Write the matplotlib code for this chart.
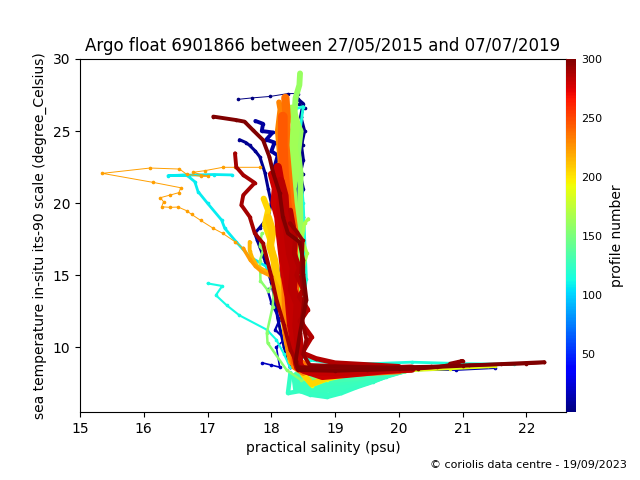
import matplotlib
matplotlib.use("Agg")
import matplotlib.pyplot as plt
from matplotlib import cm
from matplotlib.colors import Normalize

title = "Argo float 6901866 between 27/05/2015 and 07/07/2019"
credit = "\u00a9 coriolis data centre - 19/09/2023"
cbar_ticks = [50, 100, 150, 200, 250, 300]

# --- blue, early profiles
p002_s = [17.48, 17.7, 17.98, 18.26, 18.42, 18.44, 18.52, 18.47, 18.5, 18.44, 18.5, 18.42, 18.48, 18.44, 18.46, 18.4, 18.36, 18.3]
p002_t = [27.2, 27.3, 27.4, 27.6, 27.6, 26.9, 26.6, 26.0, 24.0, 23.0, 22.0, 20.5, 19.0, 17.5, 15.0, 13.0, 11.0, 8.8]
p004_s = [18.42, 18.5, 18.46, 18.52, 18.47, 18.5, 18.45, 18.5, 18.44, 18.49, 18.45, 18.48, 18.43, 18.46, 18.42]
p004_t = [27.2, 26.9, 26.0, 25.0, 24.0, 23.0, 22.0, 21.0, 20.0, 19.0, 18.0, 17.0, 16.0, 15.0, 14.0]
p006_s = [17.5, 17.6, 17.66, 17.75, 17.82, 17.9, 17.95, 18.0, 17.95, 17.82, 17.74, 17.78, 17.9, 18.0, 18.05, 18.1, 18.2, 18.3]
p006_t = [24.4, 24.2, 24.0, 23.6, 23.2, 22.1, 21.0, 20.0, 19.0, 18.3, 17.9, 17.4, 16.0, 14.5, 13.5, 12.0, 10.0, 8.6]
p010_s = [17.75, 17.87, 17.85, 18.02, 17.92, 18.05, 18.0, 18.1, 18.02, 18.1, 18.05, 18.2, 18.12, 18.18, 18.1, 18.2, 18.28]
p010_t = [25.7, 25.5, 25.0, 24.9, 24.4, 24.2, 23.6, 23.3, 22.0, 20.5, 19.8, 19.0, 17.5, 16.0, 14.0, 12.0, 9.5]
p014_s = [17.94, 18.0, 18.13, 18.06, 18.2, 18.24, 18.29, 18.35, 18.6, 19.2, 20.0, 20.9, 21.5]
p014_t = [14.0, 13.05, 11.9, 11.2, 10.6, 9.8, 8.9, 8.6, 8.5, 8.45, 8.4, 8.42, 8.55]
p018_s = [17.86, 18.0, 18.13, 18.08, 18.2, 18.3]
p018_t = [8.9, 8.75, 8.6, 10.0, 10.5, 8.6]
p022_s = [18.3, 18.38, 18.34, 18.42, 18.36, 18.44, 18.38, 18.45, 18.4]
p022_t = [25.0, 24.0, 22.5, 21.0, 19.5, 18.0, 16.5, 14.5, 11.0]

# --- cyan, middle profiles
p108_s = [17.38, 17.1, 16.38, 16.67, 16.8, 16.85, 17.0, 17.22, 17.27, 17.45, 17.66, 17.92, 18.0, 18.15]
p108_t = [21.95, 21.98, 21.9, 21.95, 21.48, 20.8, 19.98, 18.82, 18.24, 17.3, 16.27, 15.6, 14.88, 14.0]
p112_s = [17.0, 17.23, 17.13, 17.3, 17.5, 17.93, 18.08, 18.2, 18.29]
p112_t = [14.42, 14.24, 13.6, 12.9, 12.2, 11.2, 10.5, 9.5, 8.6]
p116_s = [18.35, 18.5, 18.42, 18.5, 18.55, 18.46, 18.4, 18.6, 19.0, 19.6, 20.2, 21.0, 21.8]
p116_t = [26.5, 26.7, 24.0, 20.0, 14.7, 12.0, 9.5, 9.1, 8.85, 8.85, 8.95, 8.85, 8.8]

# --- spring green fan of deep-water tails
p124_s = [18.3, 18.26, 18.45, 18.6, 18.87, 19.1, 19.33, 19.6, 19.85, 20.1, 20.5]
p124_t = [8.2, 6.8, 6.95, 6.7, 6.53, 6.8, 7.2, 7.6, 8.05, 8.35, 8.55]
p125_s = [18.35, 18.38, 18.6, 18.9, 19.2, 19.5, 19.8, 20.1]
p125_t = [8.0, 7.0, 6.85, 6.7, 7.1, 7.5, 7.95, 8.35]
p126_s = [18.35, 18.4, 18.7, 19.0, 19.3, 19.7, 20.1]
p126_t = [8.0, 7.2, 7.0, 7.0, 7.45, 7.9, 8.4]
p127_s = [18.38, 18.45, 18.75, 19.1, 19.45, 19.8, 20.2]
p127_t = [8.1, 7.4, 7.2, 7.3, 7.65, 8.0, 8.45]
p128_s = [18.4, 18.5, 18.85, 19.2, 19.6, 20.1]
p128_t = [8.1, 7.55, 7.4, 7.55, 7.95, 8.4]
p130_s = [18.42, 18.6, 18.95, 19.35, 19.8, 20.3]
p130_t = [8.2, 7.75, 7.65, 7.8, 8.15, 8.5]
p134_s = [18.42, 18.7, 19.1, 19.5, 20.1, 20.7, 21.4]
p134_t = [8.25, 7.95, 7.95, 8.1, 8.45, 8.6, 8.7]
p138_s = [18.4, 18.7, 19.2, 19.8, 20.5, 21.0]
p138_t = [8.3, 8.1, 8.15, 8.4, 8.6, 8.7]

# --- lime, profiles along the right side of the column
p156_s = [17.85, 17.82, 17.87, 17.82, 17.83, 17.95, 18.05, 18.02, 17.93, 17.94, 18.24, 18.47, 18.9, 19.5]
p156_t = [17.9, 17.0, 16.7, 16.0, 14.6, 13.9, 14.5, 12.8, 11.0, 10.3, 8.4, 7.7, 8.0, 8.3]
p160_s = [18.45, 18.44, 18.38, 18.36, 18.46, 18.42, 18.46, 18.45, 18.46, 18.45, 18.4]
p160_t = [29.0, 28.2, 27.3, 26.0, 25.0, 23.5, 22.0, 20.0, 18.0, 16.0, 13.0]
p164_s = [18.32, 18.38, 18.34, 18.38, 18.32, 18.36, 18.32, 18.38]
p164_t = [26.5, 25.5, 24.0, 22.5, 21.0, 19.0, 17.0, 14.5]
p168_s = [18.58, 18.52, 18.48, 18.56, 18.5, 18.45]
p168_t = [18.9, 18.6, 17.5, 16.5, 15.5, 14.0]

# --- amber and yellow profiles
p188_s = [18.35, 18.49, 18.63, 18.87, 19.33, 20.1, 20.8, 21.5]
p188_t = [9.5, 8.0, 7.3, 7.7, 8.15, 8.35, 8.5, 8.65]
p205_s = [17.88, 17.95, 17.9, 17.98, 18.02, 18.05, 18.1, 18.15, 18.22, 18.28, 18.38, 18.49, 18.63, 18.87, 19.33, 20.1]
p205_t = [20.3, 19.5, 18.5, 17.5, 16.5, 15.5, 14.5, 13.5, 12.0, 10.5, 9.0, 8.2, 7.43, 7.85, 8.27, 8.4]
p210_s = [17.95, 18.02, 17.98, 18.05, 18.08, 18.14, 18.2, 18.25, 18.32]
p210_t = [19.0, 18.0, 17.0, 16.0, 15.0, 13.5, 12.0, 10.5, 9.0]
p215_s = [17.66, 17.66, 17.7, 17.78, 17.9, 18.0, 18.1, 18.18, 18.25]
p215_t = [17.3, 16.7, 16.2, 15.6, 15.3, 15.0, 14.2, 12.5, 10.0]

# --- orange thin profile with the salinity excursion
p222_s = [17.82, 17.43, 17.24, 16.96, 16.77, 17.01, 16.9, 16.67, 16.56, 16.1, 15.35, 16.15, 16.58, 16.55,
          16.41, 16.26, 16.31, 16.28, 16.41, 16.54, 16.67, 16.75, 16.89, 17.09, 17.24, 17.43, 17.56, 17.66, 17.84, 18.0]
p222_t = [22.48, 22.48, 22.48, 22.25, 22.13, 21.85, 21.85, 22.0, 22.36, 22.43, 22.06, 21.43, 21.06, 20.72,
          20.55, 20.37, 20.09, 19.74, 19.7, 19.72, 19.47, 19.21, 18.8, 18.24, 17.89, 17.31, 16.85, 16.04, 15.3, 14.88]
p223_s = [17.56, 17.66, 17.75, 17.84, 18.0]
p223_t = [16.85, 16.1, 15.6, 15.25, 14.9]

# --- deep orange, main column
p232_s = [18.12, 18.14, 18.1, 18.14, 18.16, 18.18, 18.16, 18.2, 18.22, 18.28, 18.36, 18.5]
p232_t = [27.0, 26.5, 25.0, 23.0, 21.0, 19.0, 17.0, 14.0, 11.0, 9.5, 8.6, 8.2]
p238_s = [18.22, 18.24, 18.22, 18.26, 18.3, 18.36, 18.34, 18.36, 18.42, 18.7, 19.2, 20.0]
p238_t = [27.3, 26.0, 24.0, 22.0, 20.0, 18.0, 15.0, 12.0, 9.0, 8.2, 8.2, 8.4]
p244_s = [18.18, 18.18, 18.2, 18.24, 18.32, 18.36, 18.36, 18.38]
p244_t = [26.0, 24.0, 22.0, 20.0, 18.0, 15.0, 12.0, 9.0]

# --- dark red, latest profiles
p280_s = [18.0, 18.06, 18.04, 18.1, 18.12, 18.16, 18.2, 18.26, 18.3, 18.36, 18.42, 18.5, 18.7, 18.8, 19.2, 20.0]
p280_t = [22.0, 21.0, 20.0, 19.0, 18.0, 16.5, 15.0, 13.5, 11.5, 10.0, 9.0, 8.4, 8.1, 7.95, 8.1, 8.45]
p282_s = [18.1, 18.16, 18.14, 18.2, 18.18, 18.26, 18.28, 18.34, 18.34, 18.38, 18.42, 18.6, 19.0, 19.6, 20.2]
p282_t = [22.5, 21.0, 19.5, 18.0, 16.5, 15.0, 13.5, 12.0, 10.5, 9.5, 8.6, 8.3, 8.25, 8.4, 8.5]
p284_s = [18.14, 18.2, 18.22, 18.26, 18.3, 18.36, 18.33, 18.42, 18.4, 18.44, 18.42]
p284_t = [21.5, 20.5, 19.0, 18.0, 16.5, 15.5, 14.0, 13.0, 11.5, 10.0, 8.8]
p286_s = [18.3, 18.34, 18.38, 18.36, 18.44, 18.4, 18.5, 18.44, 18.57, 18.45, 18.63, 18.48, 18.7, 19.0, 20.0]
p286_t = [19.5, 18.5, 17.5, 16.5, 15.5, 15.0, 14.0, 13.5, 12.6, 11.8, 10.7, 9.6, 9.2, 8.9, 8.65]
p290_s = [17.43, 17.45, 17.56, 17.74, 17.56, 17.53, 17.66, 17.74, 17.87, 18.0, 18.08, 18.2, 18.3, 18.44]
p290_t = [23.45, 22.5, 21.94, 21.4, 20.55, 19.86, 19.05, 17.9, 17.2, 14.9, 13.3, 11.5, 9.8, 8.6]
p294_s = [18.29, 18.4, 18.49, 18.47, 18.52, 18.48, 18.55, 18.5, 18.6, 18.9, 19.5, 20.2]
p294_t = [18.6, 18.0, 17.4, 14.9, 13.5, 12.0, 10.5, 9.5, 8.75, 8.7, 8.6, 8.5]
p296_s = [18.44, 18.8, 19.5, 20.3, 20.6, 20.9, 21.0, 20.8]
p296_t = [8.5, 8.45, 8.4, 8.5, 8.6, 8.85, 9.05, 8.85]
p298_s = [18.44, 19.0, 19.8, 20.5, 21.1, 21.6, 22.0, 22.28]
p298_t = [8.6, 8.65, 8.6, 8.65, 8.75, 8.8, 8.85, 8.93]
p299_s = [17.09, 17.45, 17.58, 17.71, 17.87, 17.97, 18.03, 18.13, 18.18, 18.26, 18.44, 18.5, 18.5, 18.55, 18.45, 18.38, 18.42, 19.0, 20.0, 21.0, 22.28]
p299_t = [26.0, 25.76, 25.65, 25.07, 24.37, 23.2, 22.06, 20.7, 19.05, 17.9, 17.3, 16.04, 15.1, 13.3, 11.0, 9.0, 8.4, 8.35, 8.5, 8.7, 8.95]

profiles = {
    2: (p002_s, p002_t), 4: (p004_s, p004_t), 6: (p006_s, p006_t), 10: (p010_s, p010_t),
    14: (p014_s, p014_t), 18: (p018_s, p018_t), 22: (p022_s, p022_t),
    108: (p108_s, p108_t), 112: (p112_s, p112_t), 116: (p116_s, p116_t),
    124: (p124_s, p124_t), 125: (p125_s, p125_t), 126: (p126_s, p126_t), 127: (p127_s, p127_t),
    128: (p128_s, p128_t), 130: (p130_s, p130_t), 134: (p134_s, p134_t), 138: (p138_s, p138_t),
    156: (p156_s, p156_t), 160: (p160_s, p160_t), 164: (p164_s, p164_t), 168: (p168_s, p168_t),
    188: (p188_s, p188_t), 205: (p205_s, p205_t), 210: (p210_s, p210_t), 215: (p215_s, p215_t),
    222: (p222_s, p222_t), 223: (p223_s, p223_t),
    232: (p232_s, p232_t), 238: (p238_s, p238_t), 244: (p244_s, p244_t),
    280: (p280_s, p280_t), 282: (p282_s, p282_t), 284: (p284_s, p284_t), 286: (p286_s, p286_t),
    290: (p290_s, p290_t), 294: (p294_s, p294_t), 296: (p296_s, p296_t), 298: (p298_s, p298_t),
    299: (p299_s, p299_t),
}

# line width per profile (points); anything absent is thin
widths = {4: 2.4, 6: 2.2, 10: 2.8, 14: 1.6, 18: 1.2, 22: 3.0, 108: 2.0, 112: 1.5, 116: 2.0,
          124: 3.2, 125: 3.4, 126: 3.4, 127: 3.4, 128: 3.4, 130: 3.2, 134: 2.6, 138: 2.0,
          156: 1.8, 160: 4.2, 164: 7.0, 168: 2.4,
          188: 2.2, 205: 4.4, 210: 5.5, 215: 2.8, 223: 2.5, 232: 4.0, 238: 6.0, 244: 7.0,
          280: 5.0, 282: 6.0, 284: 6.5, 286: 3.6, 290: 2.8, 294: 2.8, 296: 2.6, 298: 2.4, 299: 2.8}

fig = plt.figure(figsize=(6.4, 4.8), dpi=100)
ax = fig.add_axes([80 / 640, 68 / 480, 486 / 640, 353 / 480])
cax = fig.add_axes([566 / 640, 68 / 480, 10 / 640, 353 / 480])

norm = Normalize(1, 300)
cmap = matplotlib.colormaps["jet"]
for pid in sorted(profiles):
    s, t = profiles[pid]
    ax.plot(s, t, "-", color=cmap(norm(pid)), lw=widths.get(pid, 0.7), marker="o", ms=1.6, zorder=pid,
            solid_joinstyle="round", solid_capstyle="round")

ax.set_xlim(15, 22.62)
ax.set_ylim(5.49, 30)
ax.set_xticks(range(15, 23))
ax.set_yticks(range(10, 31, 5))
ax.set_xlabel("practical salinity (psu)")
ax.set_ylabel("sea temperature in-situ its-90 scale (degree_Celsius)")
ax.set_title(title, fontsize=12)

cb = fig.colorbar(cm.ScalarMappable(norm=norm, cmap=cmap), cax=cax, ticks=cbar_ticks)
cb.ax.tick_params(length=0, labelsize=8, pad=4)
cb.set_label("profile number", labelpad=5)
cb.outline.set_visible(False)

fig.text(627 / 640, 1 - 465 / 480, credit, fontsize=8, ha="right", va="center")
fig.savefig("out.png", dpi=100)
